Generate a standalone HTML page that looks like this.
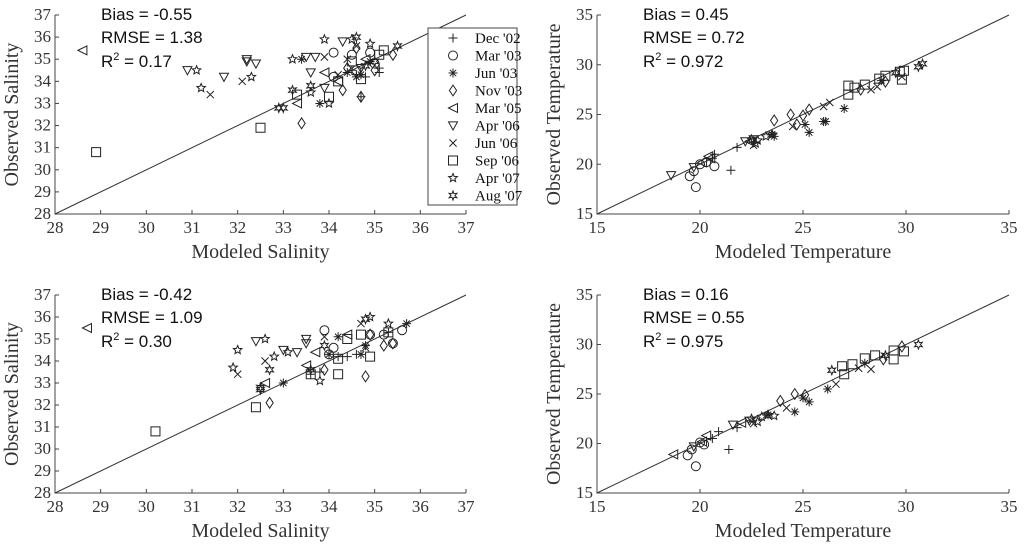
<!DOCTYPE html>
<html><head><meta charset="utf-8"><style>
body{margin:0;background:#fff;}
svg{display:block;}
.tk{font-family:"Liberation Serif",serif;font-size:17px;fill:#333;}
.at{font-family:"Liberation Serif",serif;font-size:20px;fill:#333;}
.st{font-family:"Liberation Sans",sans-serif;font-size:17px;fill:#111;}
.lg{font-family:"Liberation Serif",serif;font-size:15px;fill:#111;}
</style></head><body>
<svg id="c" width="1024" height="550" viewBox="0 0 1024 550"></svg>
<script>
const seriesNames=["Dec '02","Mar '03","Jun '03","Nov '03","Mar '05","Apr '06","Jun '06","Sep '06","Apr '07","Aug '07"];
const salTicks=[28,29,30,31,32,33,34,35,36,37];
const tempTicks=[15,20,25,30,35];
const statsTL=["Bias = -0.55","RMSE = 1.38","0.17"];
const statsTR=["Bias = 0.45","RMSE = 0.72","0.972"];
const statsBL=["Bias = -0.42","RMSE = 1.09","0.30"];
const statsBR=["Bias = 0.16","RMSE = 0.55","0.975"];
const dataTL=[
[[34.6,34.3],[34.7,33.3],[35.1,34.4],[35.1,34.6],[34.9,34.9],[34.8,34.2],[34.5,34.5]],
[[34.1,35.3],[34.5,35.2],[34.9,35.3],[34.1,34.2],[34.6,34.5],[35.0,34.8]],
[[33.8,33.0],[33.4,35.0],[34.7,34.3],[34.9,34.9],[34.4,34.4],[34.6,34.2]],
[[33.4,32.1],[34.3,33.6],[34.7,33.3],[34.6,35.5],[35.4,35.2],[35.0,34.5],[34.4,34.6]],
[[28.6,35.4],[33.9,34.4],[34.2,34.0],[33.3,33.0],[34.8,35.0]],
[[30.9,34.5],[31.7,34.2],[32.2,34.9],[32.2,35.0],[32.4,34.8],[33.5,35.1],[33.7,35.1],[33.6,34.4],[33.9,33.7],[34.3,35.8],[34.7,34.6]],
[[31.4,33.4],[32.1,34.0],[33.9,35.1],[34.6,35.6],[34.4,35.0],[34.2,34.3]],
[[28.9,30.8],[32.5,31.9],[33.3,33.4],[34.0,33.3],[34.7,34.1],[34.5,34.9],[35.1,35.2],[35.2,35.4],[34.2,34.0]],
[[31.1,34.5],[31.2,33.7],[32.3,34.2],[33.2,35.0],[33.9,35.9],[34.0,33.0],[34.5,35.9],[34.9,35.7],[33.6,33.5]],
[[32.9,32.8],[33.0,32.8],[33.2,33.6],[33.6,33.8],[34.6,36.0],[35.5,35.6],[34.8,34.7],[35.0,34.9]]];
const dataBL=[
[[33.6,33.4],[33.8,33.5],[34.4,34.2],[34.6,34.3],[35.3,35.3],[34.2,34.2]],
[[33.9,35.4],[34.1,34.6],[34.9,35.2],[35.2,35.2],[35.6,35.4],[35.4,34.8],[34.0,34.3]],
[[33.0,33.0],[34.2,35.1],[34.8,34.7],[34.7,34.3],[35.7,35.7],[34.0,34.3]],
[[32.7,32.1],[34.8,33.3],[33.9,33.6],[35.2,34.7],[35.4,34.8],[34.9,35.2]],
[[28.7,35.5],[32.6,33.0],[33.5,33.8],[33.7,34.4],[34.4,35.2]],
[[32.4,34.9],[33.0,34.5],[33.3,34.4],[33.5,35.0],[33.5,34.8]],
[[32.0,33.4],[32.6,34.0],[33.9,35.1],[34.7,35.7],[34.8,34.6]],
[[30.2,30.8],[32.4,31.9],[33.6,33.4],[34.2,33.4],[34.2,34.1],[34.4,35.0],[34.9,34.2],[34.7,35.2],[35.3,35.3]],
[[31.9,33.7],[32.0,34.5],[32.6,35.0],[32.8,34.2],[33.1,34.4],[33.8,33.1],[34.9,36.0],[35.3,35.7]],
[[32.5,32.8],[32.5,32.7],[32.7,33.6],[33.6,33.6],[33.9,34.7],[34.8,35.9]]];
const dataTR=[
[[21.5,19.4],[20.7,21.0],[21.8,21.7],[20.6,20.6]],
[[19.8,17.7],[19.5,18.8],[20.7,19.8],[19.7,19.3],[20.0,20.0],[20.3,20.2]],
[[23.6,22.8],[23.5,23.0],[25.3,23.2],[26.0,24.3],[26.1,24.3],[27.0,25.6],[25.1,24.0],[28.8,28.4]],
[[23.6,24.4],[24.4,25.0],[25.0,24.9],[25.3,25.5],[27.8,27.5],[29.0,28.3],[24.7,24.0]],
[[20.4,20.8],[20.1,20.2],[20.5,20.6],[22.4,22.3]],
[[18.6,18.9],[19.7,19.7],[22.2,22.3],[22.6,22.5]],
[[22.6,21.9],[26.3,26.2],[26.0,25.8],[28.3,27.5],[28.6,27.8],[29.8,28.8],[24.5,23.8]],
[[27.2,27.9],[27.2,27.0],[27.5,27.7],[28.0,28.0],[28.7,28.6],[29.0,28.9],[29.7,29.3],[29.9,29.4],[29.8,28.5]],
[[22.5,22.5],[22.8,22.4],[23.5,23.0],[23.2,22.8],[22.7,22.1]],
[[30.6,29.8],[30.8,30.1],[29.5,29.2]]];
const dataBR=[
[[21.4,19.4],[20.9,21.2],[21.8,21.6],[20.6,20.5]],
[[19.8,17.7],[19.4,18.8],[20.2,19.9],[19.6,19.4],[20.0,20.1]],
[[24.6,23.2],[25.3,24.2],[26.2,25.5],[28.0,28.1],[23.3,22.9],[25.0,24.6]],
[[23.9,24.3],[24.6,25.0],[25.1,24.9],[28.9,28.5],[29.8,29.8]],
[[18.7,18.9],[20.3,20.8],[20.1,20.2],[22.0,22.1]],
[[21.6,21.9],[22.4,22.3],[19.7,19.7]],
[[22.6,22.0],[26.6,26.0],[28.3,27.5],[27.7,27.6],[24.2,23.6]],
[[26.9,27.8],[27.0,27.0],[27.4,28.0],[28.0,28.6],[28.5,28.9],[29.4,29.4],[29.9,29.3],[29.4,28.5]],
[[22.5,22.5],[23.0,22.7],[23.3,22.9],[23.6,22.8],[22.8,22.2]],
[[30.6,30.0],[26.4,27.4],[29.0,28.9]]];

const svg=document.getElementById('c');
const NS='http://www.w3.org/2000/svg';
function mk(tag,at,parent){const e=document.createElementNS(NS,tag);for(const k in at)e.setAttribute(k,at[k]);(parent||svg).appendChild(e);return e;}
const R=4.5;
function markerPath(t,x,y){
 const r=R;let d='';
 if(t===0)return `M${x-r},${y}H${x+r}M${x},${y-r}V${y+r}`;
 if(t===2){for(let i=0;i<4;i++){const a=i*Math.PI/4;d+=`M${x-r*Math.cos(a)},${y-r*Math.sin(a)}L${x+r*Math.cos(a)},${y+r*Math.sin(a)}`;}return d;}
 if(t===3)return `M${x},${y-r*1.2}L${x+r*0.8},${y}L${x},${y+r*1.2}L${x-r*0.8},${y}Z`;
 if(t===4)return `M${x-r},${y}L${x+r},${y-r}L${x+r},${y+r}Z`;
 if(t===5)return `M${x-r},${y-r*0.8}L${x+r},${y-r*0.8}L${x},${y+r}Z`;
 if(t===6)return `M${x-r*0.8},${y-r*0.8}L${x+r*0.8},${y+r*0.8}M${x-r*0.8},${y+r*0.8}L${x+r*0.8},${y-r*0.8}`;
 if(t===7)return `M${x-r},${y-r}H${x+r}V${y+r}H${x-r}Z`;
 if(t===8||t===9){const n=t===8?5:6;const pts=[];for(let i=0;i<2*n;i++){const a=-Math.PI/2+i*Math.PI/n;const rr=i%2?r*0.45:r;pts.push((x+rr*Math.cos(a)).toFixed(1)+','+(y+rr*Math.sin(a)).toFixed(1));}return 'M'+pts.join('L')+'Z';}
 return '';
}
function drawMarker(t,x,y,g){
 if(t===1){const c=mk('circle',{cx:x,cy:y,r:R,fill:'none',stroke:'#222','stroke-width':1},g);return c;}
 return mk('path',{d:markerPath(t,x,y),fill:'none',stroke:'#222','stroke-width':1},g);
}
function panel(name,x0,x1,y0,y1,ticks,data,stats,xt,yt){
 const g=mk('g',{});
 
 
 const lo=ticks[0],hi=ticks[ticks.length-1];
 const sx=v=>x0+(v-lo)/(hi-lo)*(x1-x0);
 const sy=v=>y1-(v-lo)/(hi-lo)*(y1-y0);
 const ax=mk('path',{d:`M${x0},${y0}V${y1}H${x1}`,fill:'none',stroke:'#444','stroke-width':1},g);
 
 
 ticks.forEach(t=>{
  mk('line',{x1:sx(t),x2:sx(t),y1:y1,y2:y1-4,stroke:'#444'},g);
  mk('line',{x1:x0,x2:x0+4,y1:sy(t),y2:sy(t),stroke:'#444'},g);
  const a=mk('text',{x:sx(t),y:y1+19,'text-anchor':'middle',class:'tk'},g);a.textContent=t;
  
  
  const b=mk('text',{x:x0-4,y:sy(t)+5,'text-anchor':'end',class:'tk'},g);b.textContent=t;
  
  
 });
 const l=mk('line',{x1:sx(lo),y1:sy(lo),x2:sx(hi),y2:sy(hi),stroke:'#333','stroke-width':1},g);
 
 
 const xa=mk('text',{x:(x0+x1)/2,y:y1+44,'text-anchor':'middle',class:'at'},g);xa.textContent=xt;
 
 
 const ya=mk('text',{x:0,y:0,'text-anchor':'middle',class:'at',transform:`translate(${x0-37},${(y0+y1)/2}) rotate(-90)`},g);ya.textContent=yt;
 
 
 const s1=mk('text',{x:x0+46,y:y0+5,class:'st'},g);s1.textContent=stats[0];
 
 
 const s2=mk('text',{x:x0+46,y:y0+28,class:'st'},g);s2.textContent=stats[1];
 
 
 const s3=mk('text',{x:x0+46,y:y0+52,class:'st'},g);
 s3.innerHTML='R<tspan dy="-7" font-size="11">2</tspan><tspan dy="7"> = '+stats[2]+'</tspan>';
 
 
 data.forEach((ser,i)=>ser.forEach(p=>{
  const m=drawMarker(i,sx(p[0]),sy(p[1]),g);
  
  
 }));
}
panel('salinity-panel-top',55,466,15,214,salTicks,dataTL,statsTL,'Modeled Salinity','Observed Salinity');
panel('temperature-panel-top',597,1009,15,214,tempTicks,dataTR,statsTR,'Modeled Temperature','Observed Temperature');
panel('salinity-panel-bottom',55,466,295,493,salTicks,dataBL,statsBL,'Modeled Salinity','Observed Salinity');
panel('temperature-panel-bottom',597,1009,295,493,tempTicks,dataBR,statsBR,'Modeled Temperature','Observed Temperature');
const lg=mk('g',{});


mk('rect',{x:428,y:28,width:89,height:177,fill:'#fff',stroke:'#444'},lg);
seriesNames.forEach((n,i)=>{
 const y=38+i*17.5;
 const m=drawMarker(i,453,y,lg);
 
 
 const t=mk('text',{x:475,y:y+5,class:'lg'},lg);t.textContent=n;
 
 
});
</script>
</body></html>
